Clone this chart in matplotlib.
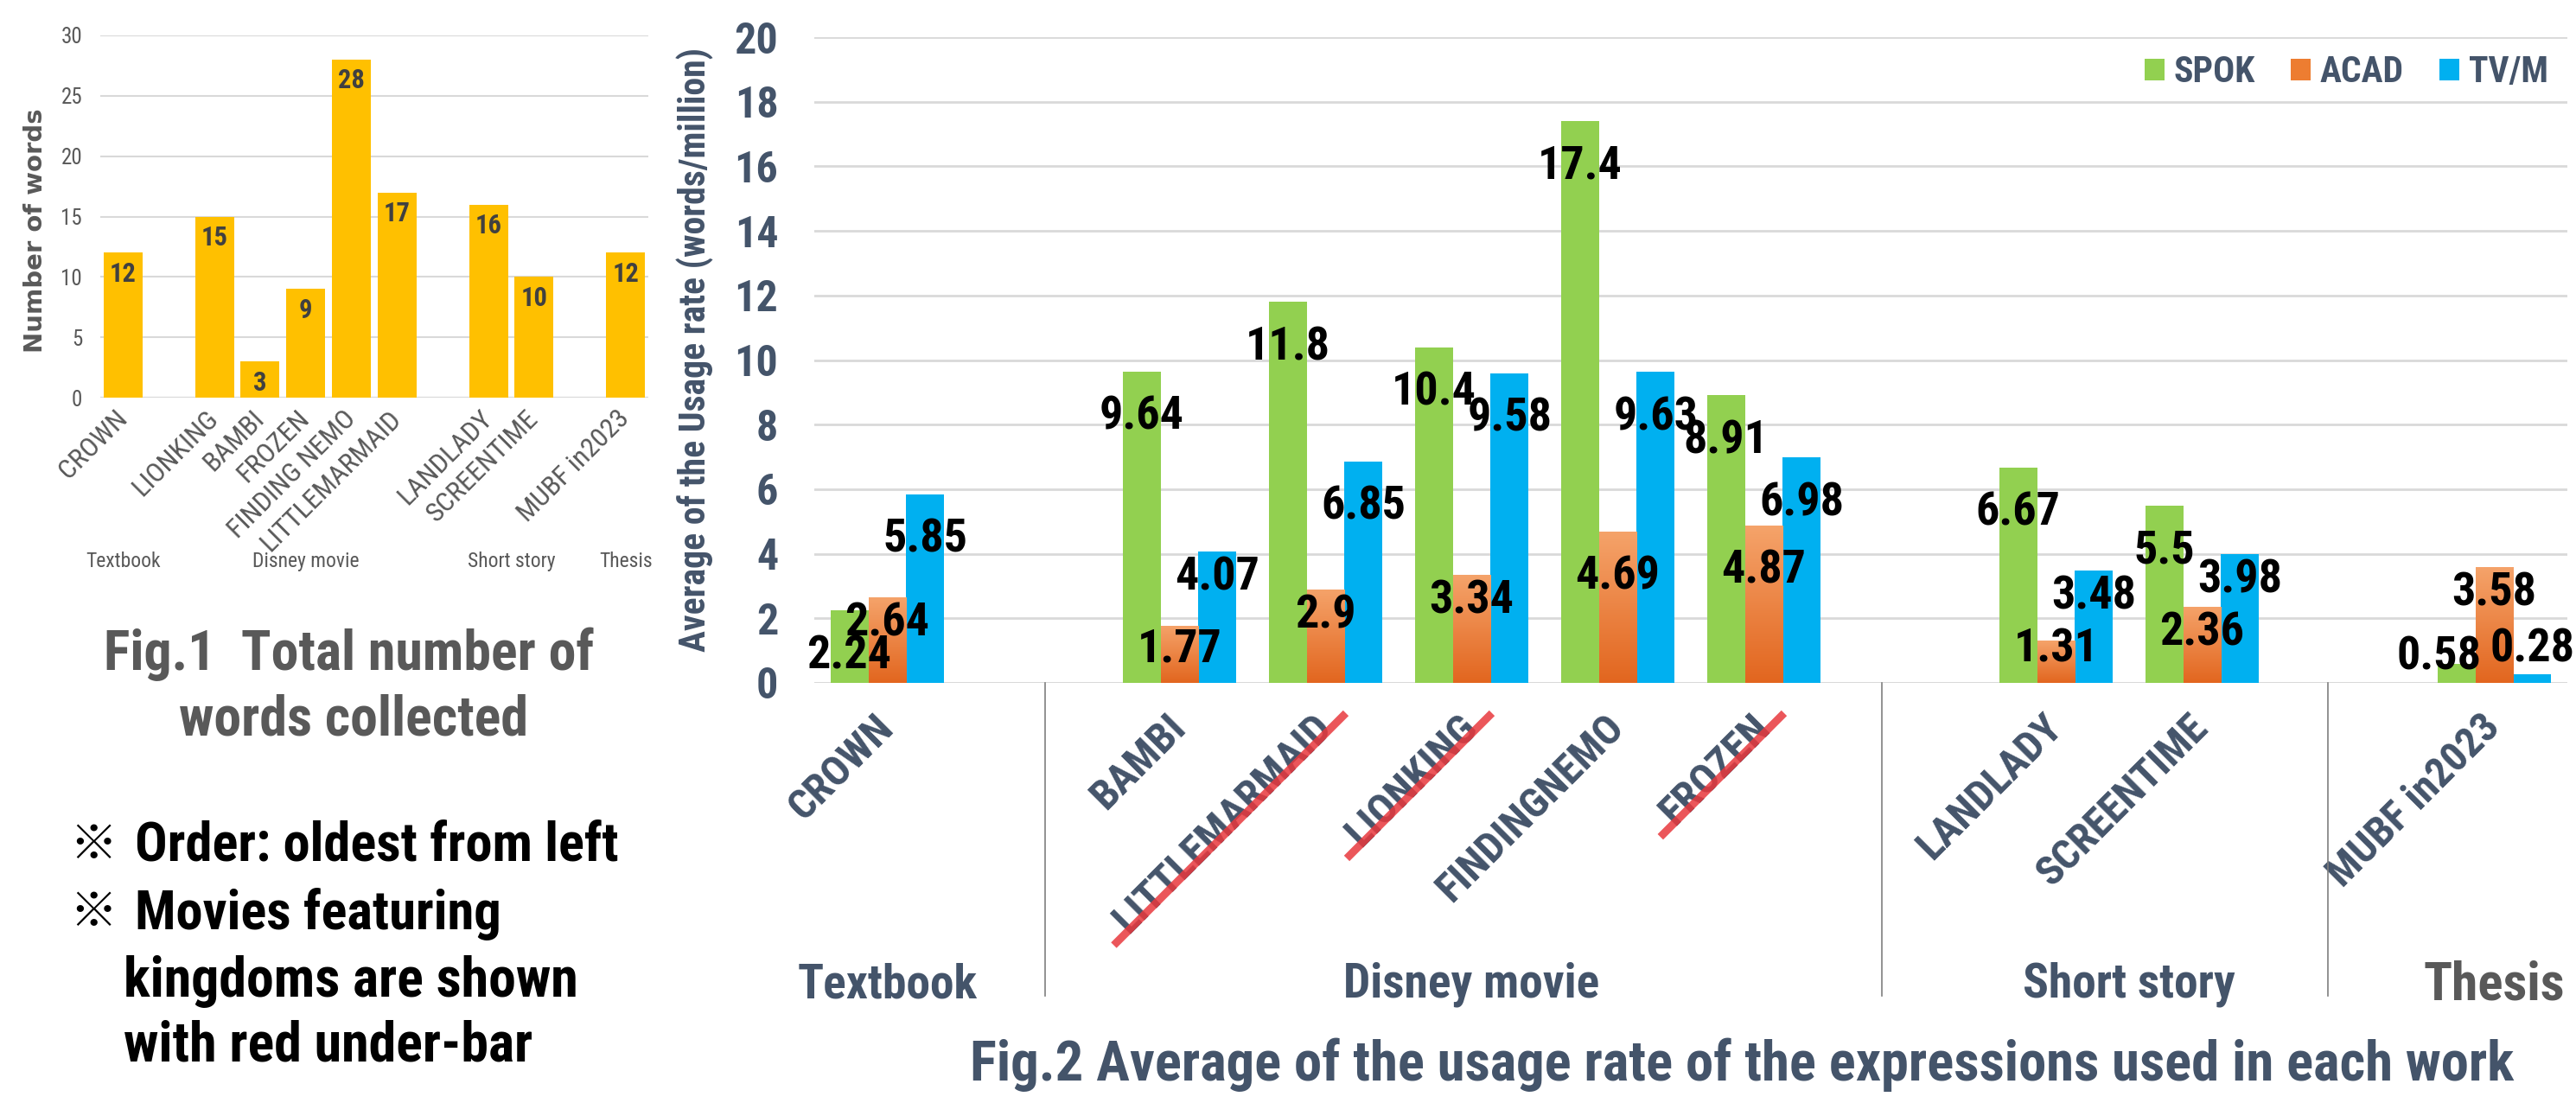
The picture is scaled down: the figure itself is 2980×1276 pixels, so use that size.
import matplotlib
matplotlib.use('Agg')
import numpy as np
import matplotlib.pyplot as plt
from matplotlib import font_manager
from matplotlib.colors import LinearSegmentedColormap
from matplotlib.lines import Line2D
from matplotlib.transforms import IdentityTransform

# narrow font, if one is installed
nomes = {f.name for f in font_manager.fontManager.ttflist}
fonte = 'DejaVu Sans'
for nome in ['Roboto Condensed', 'Liberation Sans Narrow', 'DejaVu Sans Condensed', 'Open Sans Condensed']:
    if nome in nomes:
        fonte = nome
        break
plt.rcParams['font.family'] = [fonte, 'DejaVu Sans', 'Noto Sans CJK JP']

groups = ['Textbook', 'Disney movie', 'Short story', 'Thesis']

# Fig.1 - total number of words
works1 = [['CROWN'],
          ['LIONKING', 'BAMBI', 'FROZEN', 'FINDING NEMO', 'LITTLEMARMAID'],
          ['LANDLADY', 'SCREENTIME'],
          ['MUBF in2023']]
words = [12, 15, 3, 9, 28, 17, 16, 10, 12]

# Fig.2 - usage rate (words/million)
works2 = [['CROWN'],
          ['BAMBI', 'LITTLEMARMAID', 'LIONKING', 'FINDINGNEMO', 'FROZEN'],
          ['LANDLADY', 'SCREENTIME'],
          ['MUBF in2023']]
kingdom = ['LITTLEMARMAID', 'LIONKING', 'FROZEN']
series = ['SPOK', 'ACAD', 'TV/M']
spok = [2.24, 9.64, 11.8, 10.4, 17.4, 8.91, 6.67, 5.5, 0.58]
acad = [2.64, 1.77, 2.9, 3.34, 4.69, 4.87, 1.31, 2.36, 3.58]
tvm = [5.85, 4.07, 6.85, 9.58, 9.63, 6.98, 3.48, 3.98, 0.28]

W, H = 2980, 1276
CINZA = '#595959'
AZUL = '#44546A'


def box(l, t, r, b):
    return [l / W, 1 - b / H, (r - l) / W, (b - t) / H]


def px(x, y):
    return x / W, 1 - y / H


def slots(works):
    # one empty slot between groups
    pos, centers, x = [], [], 0
    for g in works:
        p = list(range(x, x + len(g)))
        pos += p
        centers.append(sum(p) / len(p))
        x += len(g) + 1
    return pos, centers


fig = plt.figure(figsize=(W / 100, H / 100), dpi=100)

# ---------------- Fig.1 ----------------
pos1, cen1 = slots(works1)
ax1 = fig.add_axes(box(116, 41, 750, 460))
ax1.bar(pos1, words, width=0.85, color='#FFC000', zorder=2)
ax1.set_xlim(-0.5, 11.5)
ax1.set_ylim(0, 30)
ax1.set_yticks(range(0, 31, 5))
ax1.grid(axis='y', color='#D9D9D9', lw=1.5, zorder=0)
for s in ax1.spines.values():
    s.set_visible(False)
ax1.axhline(0, color='#D9D9D9', lw=1.5, zorder=1)
ax1.tick_params(length=0, labelsize=18, labelcolor=CINZA)
ax1.tick_params(axis='y', pad=15)
ax1.set_xticks(pos1, [w for g in works1 for w in g], rotation=45, ha='right',
               va='center', rotation_mode='anchor', fontsize=23, color=CINZA)
ax1.tick_params(axis='x', pad=14)
for x, v in zip(pos1, words):
    ax1.text(x, v - 1.75, str(v), ha='center', va='center', fontsize=22,
             fontweight='bold', color='#404040', zorder=3)
for c, g in zip(cen1, groups):
    ax1.text(c, -13.6, g, ha='center', va='center', fontsize=17, color=CINZA,
             clip_on=False)
fig.text(*px(41, 267), 'Number of words', rotation=90, ha='center', va='center',
         fontsize=21, fontweight='bold', color=CINZA, family='DejaVu Sans')

fig.text(*px(404, 757), 'Fig.1  Total number of', ha='center', va='center',
         fontsize=46, fontweight='bold', color=CINZA)
fig.text(*px(409, 833), 'words collected', ha='center', va='center',
         fontsize=46, fontweight='bold', color=CINZA)

notas = [(True, 979, 'Order: oldest from left'),
         (True, 1057, 'Movies featuring'),
         (False, 1135, 'kingdoms are shown'),
         (False, 1210, 'with red under-bar')]
for marca, y, t in notas:
    if marca:
        fig.text(*px(80, y), '※', ha='left', va='center', fontsize=40,
                 color='black', family='Noto Sans CJK JP')
        fig.text(*px(156, y), t, ha='left', va='center', fontsize=45,
                 fontweight='bold', color='black')
    else:
        fig.text(*px(143, y), t, ha='left', va='center', fontsize=46,
                 fontweight='bold', color='black')

# ---------------- Fig.2 ----------------
pos2, cen2 = slots(works2)
ax2 = fig.add_axes(box(942, 43, 2970, 790))
cores = ['#92D050', '#ED7D31', '#00B0F0']
laranja = LinearSegmentedColormap.from_list('laranja', ['#E2661F', '#F5A36A'])
grad = np.linspace(0, 1, 128).reshape(-1, 1)
larg = 0.26
for i, (nome, vals, cor) in enumerate(zip(series, [spok, acad, tvm], cores)):
    xs = [p + (i - 1) * larg for p in pos2]
    barras = ax2.bar(xs, vals, width=larg, color=cor, label=nome, zorder=2)
    if nome == 'ACAD':
        # light top, darker bottom
        for b in barras:
            im = ax2.imshow(grad, cmap=laranja, origin='lower', aspect='auto', zorder=2.5,
                            extent=[b.get_x(), b.get_x() + b.get_width(), 0, b.get_height()])
            im.set_clip_path(b)
    for x, v in zip(xs, vals):
        desce = 1.4 if (i == 0 or v >= 4.5) else 0.8
        y = max(v - desce, 0.8 if i == 0 else 1.05)
        if i == 0 and v < 1.5:
            x -= 0.12   # keep clear of the neighbour label
        ax2.text(x, y, f'{v:g}', ha='center', va='center', fontsize=39,
                 fontweight='bold', color='black', zorder=4)
ax2.set_xlim(-0.5, 11.5)
ax2.set_ylim(0, 20)
ax2.set_yticks(range(0, 21, 2))
ax2.grid(axis='y', color='#D9D9D9', lw=2, zorder=0)
for s in ax2.spines.values():
    s.set_visible(False)
ax2.axhline(0, color='#D9D9D9', lw=2, zorder=1)
ax2.tick_params(length=0)
ax2.tick_params(axis='y', pad=30, labelsize=36, labelcolor=AZUL)
for t in ax2.get_yticklabels():
    t.set_fontweight('bold')
ax2.set_xticks(pos2, [w for g in works2 for w in g], rotation=45,
               ha='right', va='center', rotation_mode='anchor',
               fontsize=35, fontweight='bold', color=AZUL)
ax2.tick_params(axis='x', pad=32)
fig.text(*px(804, 405), 'Average of the Usage rate (words/million)', rotation=90,
         ha='center', va='center', fontsize=30, fontweight='bold', color=AZUL)

# group separators below the axis
for sx in [1.08, 6.81, 9.86]:
    ax2.plot([sx, sx], [0, -362 / 747], color='#7F7F7F', lw=1.2,
             transform=ax2.get_xaxis_transform(), clip_on=False)
for c, g in zip(cen2, groups):
    ax2.text(c, -9.35, g, ha='center', va='center', fontsize=44 if g == 'Thesis' else 40,
             fontweight='bold', color=CINZA if g == 'Thesis' else AZUL, clip_on=False)

leg = ax2.legend(loc='upper right', bbox_to_anchor=(0.989, 0.973), ncol=3,
                 frameon=False, fontsize=30, handlelength=0.55, handleheight=0.55,
                 handletextpad=0.25, columnspacing=1.0, borderaxespad=0, borderpad=0)
for t in leg.get_texts():
    t.set_fontweight('bold')
    t.set_color(AZUL)

fig.text(*px(2015, 1232), 'Fig.2 Average of the usage rate of the expressions used in each work',
         ha='center', va='center', fontsize=46.5, fontweight='bold', color=AZUL)

# red under-bar on the kingdom movies
fig.canvas.draw()
for t in ax2.get_xticklabels():
    if t.get_text() in kingdom:
        bb = t.get_window_extent()
        fig.add_artist(Line2D([bb.x0 + 12, bb.x1 + 4], [bb.y0 - 2, bb.y1 - 10],
                              color='#E8383D', alpha=0.85, lw=6.5,
                              transform=IdentityTransform()))

fig.savefig('out.png', dpi=100)
